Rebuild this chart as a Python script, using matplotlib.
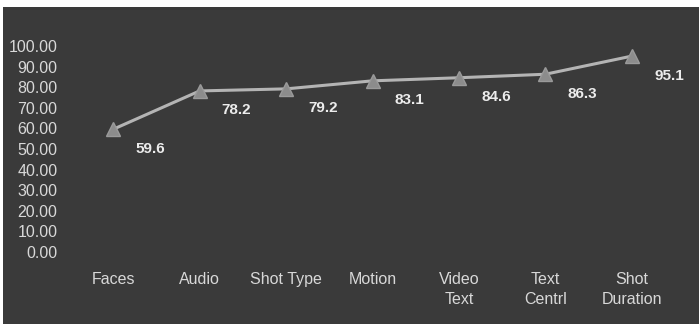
import matplotlib.pyplot as plt
from matplotlib.patches import Rectangle

# accuracy per feature
categories = ['Faces', 'Audio', 'Shot Type', 'Motion', 'Video\nText', 'Text\nCentrl', 'Shot\nDuration']
values = [59.6, 78.2, 79.2, 83.1, 84.6, 86.3, 95.1]
yticks = [0, 10, 20, 30, 40, 50, 60, 70, 80, 90, 100]

bg = '#3a3a3a'
txt = '#d8d8d8'

plt.rcParams['font.family'] = ['Liberation Sans', 'DejaVu Sans']

fig = plt.figure(figsize=(6.99, 3.24), dpi=100, facecolor='white')
# dark panel with a thin light border on left and top
fig.patches.append(Rectangle((3 / 699, 0), 1, 1 - 7 / 324, transform=fig.transFigure,
                             facecolor=bg, edgecolor='none', zorder=-10))

ax = fig.add_axes([70 / 699, 0.222, 605 / 699, 0.636])
ax.set_facecolor('none')
x = list(range(len(categories)))
ax.plot(x, values, color='#b4b4b4', lw=2.2, marker='^', markersize=10,
        markerfacecolor='#8c8c8c', markeredgecolor='#9a9a9a', zorder=3)

for xi, v in zip(x, values):
    ax.annotate('{0:.1f}'.format(v), (xi, v), xytext=(16, -14), textcoords='offset points',
                color='#ececec', fontsize=11, fontweight='bold', va='center', ha='left')

ax.set_xlim(-0.5, len(categories) - 0.5)
ax.set_ylim(0, 100)
ax.set_yticks(yticks)
ax.set_yticklabels(['{0:.2f}'.format(t) for t in yticks])
ax.set_xticks(x)
ax.set_xticklabels(categories, linespacing=1.45)
ax.tick_params(length=0, colors=txt, labelsize=11.5)
ax.tick_params(axis='x', pad=14)
ax.tick_params(axis='y', pad=9)
for s in ax.spines.values():
    s.set_visible(False)

fig.savefig('out.png', dpi=100, facecolor='white')
